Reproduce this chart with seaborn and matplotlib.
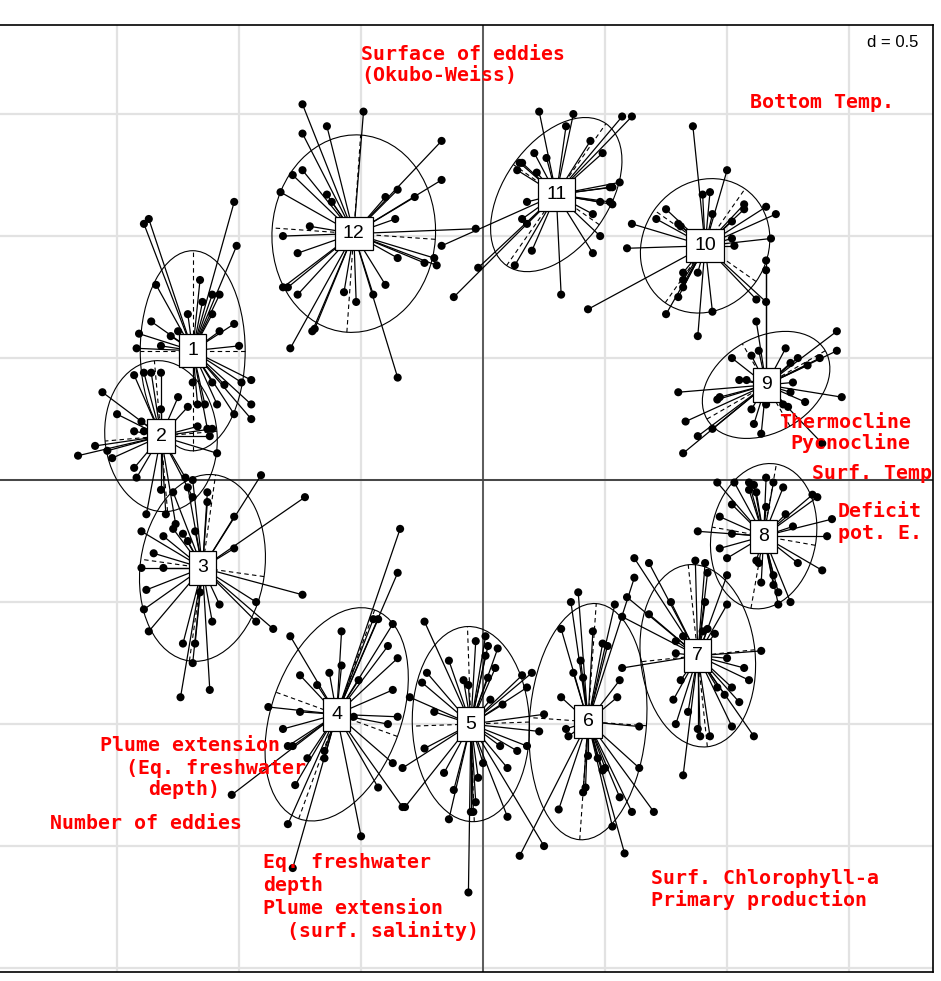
import numpy as np
import pandas as pd
import matplotlib
matplotlib.use("Agg")
import matplotlib.pyplot as plt
from matplotlib.patches import Ellipse
from matplotlib.collections import LineCollection
import seaborn as sns

# Scores of the sampling units on the first two axes, by class (month 1..12)
grp01 = [(-1.37, 1.07), (-1.39, 1.05), (-1.02, 1.14), (-1.01, 0.96), (-1.34, 0.80), (-1.16, 0.82),
         (-1.11, 0.76), (-1.08, 0.76), (-1.15, 0.73), (-1.11, 0.68), (-1.21, 0.68), (-1.36, 0.65),
         (-1.41, 0.60), (-1.28, 0.59), (-1.02, 0.64), (-1.08, 0.61), (-1.25, 0.61), (-1.42, 0.54),
         (-1.32, 0.55), (-1.00, 0.55), (-0.99, 0.40), (-0.95, 0.41), (-0.95, 0.31), (-0.95, 0.25),
         (-1.02, 0.27), (-1.11, 0.40), (-1.14, 0.31), (-1.09, 0.31), (-1.06, 0.39), (-1.19, 0.40),
         (-1.17, 0.31), (-1.13, 0.21)]
grp02 = [(-1.56, 0.36), (-1.50, 0.27), (-1.59, 0.14), (-1.66, 0.10), (-1.54, 0.12), (-1.52, 0.09),
         (-1.43, 0.05), (-1.42, 0.01), (-1.43, 0.43), (-1.39, 0.44), (-1.36, 0.44), (-1.32, 0.44),
         (-1.40, 0.24), (-1.43, 0.20), (-1.39, 0.20), (-1.25, 0.34), (-1.32, 0.29), (-1.21, 0.30),
         (-1.17, 0.22), (-1.11, 0.21), (-1.12, 0.18), (-1.09, 0.11), (-1.22, 0.01), (-1.19, -0.07),
         (-1.32, -0.04), (-1.38, -0.14), (-1.30, -0.14), (-1.26, -0.18)]
grp03 = [(-0.91, 0.02), (-0.73, -0.07), (-1.02, -0.15), (-1.02, -0.28), (-1.13, -0.09), (-1.13, -0.05),
         (-1.19, 0.00), (-1.21, -0.03), (-1.27, -0.05), (-1.27, -0.20), (-1.23, -0.22), (-1.21, -0.25),
         (-1.18, -0.21), (-1.31, -0.23), (-1.40, -0.21), (-1.35, -0.30), (-1.40, -0.36), (-1.31, -0.36),
         (-1.38, -0.45), (-1.39, -0.53), (-1.37, -0.62), (-0.74, -0.47), (-0.93, -0.50), (-0.93, -0.58),
         (-0.86, -0.61), (-1.08, -0.51), (-1.11, -0.58), (-1.16, -0.46), (-1.23, -0.67), (-1.18, -0.67),
         (-1.19, -0.75), (-1.24, -0.89), (-1.12, -0.86)]
grp04 = [(-0.34, -0.20), (-0.35, -0.38), (-0.45, -0.57), (-0.43, -0.57), (-0.37, -0.59), (-0.39, -0.68),
         (-0.35, -0.73), (-0.51, -0.82), (-0.37, -0.86), (-0.35, -0.97), (-0.39, -1.00), (-0.53, -0.97),
         (-0.58, -0.62), (-0.58, -0.76), (-0.63, -0.79), (-0.68, -0.84), (-0.75, -0.80), (-0.79, -0.64),
         (-0.88, -0.93), (-0.75, -0.95), (-0.82, -1.02), (-0.80, -1.09), (-0.78, -1.09), (-0.72, -1.14),
         (-0.65, -1.14), (-0.65, -1.11), (-0.77, -1.25), (-0.80, -1.41), (-0.78, -1.59), (-1.03, -1.29),
         (-0.43, -1.26), (-0.37, -1.16), (-0.33, -1.34), (-0.50, -1.46)]
grp05 = [(-0.24, -0.58), (-0.14, -0.74), (-0.23, -0.79), (-0.25, -0.83), (-0.30, -0.89), (-0.20, -0.95),
         (-0.03, -0.66), (0.01, -0.64), (0.02, -0.68), (0.01, -0.72), (0.06, -0.69), (0.05, -0.77),
         (0.02, -0.81), (-0.08, -0.82), (-0.06, -0.84), (0.16, -0.80), (0.20, -0.79), (0.18, -0.85),
         (0.08, -0.92), (0.03, -0.90), (0.25, -0.96), (0.23, -1.03), (0.18, -1.09), (0.14, -1.11),
         (0.07, -1.09), (0.00, -1.16), (0.10, -1.18), (-0.24, -1.10), (-0.33, -1.18), (-0.32, -1.34),
         (-0.16, -1.20), (-0.12, -1.27), (-0.14, -1.39), (-0.02, -1.22), (-0.03, -1.32), (-0.05, -1.36),
         (-0.04, -1.36), (-0.06, -1.69), (0.10, -1.38), (0.25, -1.50)]
grp06 = [(0.39, -0.46), (0.36, -0.50), (0.32, -0.61), (0.45, -0.62), (0.49, -0.67), (0.51, -0.68),
         (0.54, -0.51), (0.40, -0.74), (0.37, -0.79), (0.41, -0.81), (0.56, -0.82), (0.55, -0.89),
         (0.32, -0.89), (0.34, -1.02), (0.35, -1.05), (0.64, -1.01), (0.64, -1.18), (0.43, -1.13),
         (0.47, -1.14), (0.49, -1.19), (0.50, -1.18), (0.42, -1.26), (0.41, -1.28), (0.31, -1.35),
         (0.56, -1.30), (0.61, -1.36), (0.70, -1.36), (0.53, -1.42), (0.58, -1.53), (0.15, -1.54),
         (0.62, -0.40)]
grp07 = [(0.62, -0.32), (0.68, -0.34), (0.59, -0.48), (0.57, -0.56), (0.68, -0.55), (0.77, -0.50),
         (0.79, -0.66), (0.82, -0.64), (0.79, -0.71), (0.57, -0.77), (0.87, -0.33), (0.91, -0.34),
         (0.92, -0.38), (0.91, -0.50), (0.90, -0.62), (0.92, -0.61), (0.95, -0.63), (1.00, -0.51),
         (1.00, -0.39), (1.14, -0.70), (1.00, -0.73), (1.07, -0.77), (1.09, -0.82), (1.02, -0.85),
         (0.96, -0.85), (0.99, -0.88), (1.05, -0.91), (0.81, -0.82), (0.78, -0.90), (0.84, -0.95),
         (0.79, -1.00), (0.88, -1.02), (0.89, -1.05), (0.93, -1.05), (1.02, -1.01), (1.11, -1.05),
         (0.82, -1.21)]
grp08 = [(0.96, -0.01), (1.03, -0.01), (1.09, -0.01), (1.11, -0.02), (1.16, 0.01), (1.19, -0.01),
         (1.23, -0.03), (1.09, -0.04), (1.12, -0.05), (1.02, -0.10), (0.97, -0.15), (1.16, -0.11),
         (1.24, -0.14), (1.35, -0.06), (1.37, -0.07), (1.43, -0.16), (1.41, -0.23), (1.27, -0.19),
         (0.88, -0.21), (1.02, -0.22), (0.97, -0.28), (1.00, -0.32), (1.29, -0.34), (1.39, -0.37),
         (1.13, -0.34), (1.12, -0.33), (1.14, -0.42), (1.19, -0.39), (1.19, -0.43), (1.21, -0.46),
         (1.21, -0.51), (1.26, -0.50)]
grp09 = [(1.12, 0.65), (1.13, 0.53), (1.10, 0.51), (1.02, 0.50), (1.24, 0.54), (1.29, 0.50),
         (1.26, 0.48), (1.33, 0.47), (1.38, 0.50), (1.45, 0.61), (1.45, 0.53), (0.80, 0.36),
         (1.05, 0.41), (1.08, 0.41), (1.27, 0.40), (1.26, 0.36), (1.32, 0.32), (1.47, 0.34),
         (0.97, 0.34), (0.96, 0.33), (0.83, 0.24), (0.88, 0.18), (0.94, 0.21), (0.82, 0.11),
         (1.10, 0.29), (1.11, 0.23), (1.14, 0.19), (1.16, 0.31), (1.23, 0.31), (1.25, 0.30),
         (1.39, 0.15), (1.16, 0.90), (1.16, 0.86)]
grp10 = [(0.86, 1.45), (1.00, 1.27), (0.90, 1.17), (0.93, 1.18), (0.94, 1.09), (0.75, 1.11),
         (0.71, 1.07), (0.80, 1.05), (0.81, 1.04), (0.61, 1.05), (0.59, 0.95), (0.43, 0.70),
         (1.07, 1.13), (1.07, 1.11), (1.02, 1.06), (1.16, 1.12), (1.20, 1.09), (1.02, 0.99),
         (1.03, 0.96), (1.18, 0.99), (1.16, 0.73), (1.12, 0.74), (0.75, 0.68), (0.80, 0.75),
         (0.82, 0.79), (0.82, 0.82), (0.82, 0.85), (0.88, 0.85), (0.94, 0.69), (0.88, 0.59)]
grp11 = [(0.23, 1.51), (0.37, 1.50), (0.34, 1.45), (0.57, 1.49), (0.61, 1.49), (0.44, 1.39),
         (0.49, 1.34), (0.21, 1.34), (0.26, 1.32), (0.15, 1.30), (0.16, 1.30), (0.14, 1.27),
         (0.22, 1.26), (0.56, 1.22), (0.53, 1.20), (0.52, 1.20), (0.48, 1.14), (0.52, 1.14),
         (0.53, 1.13), (0.45, 1.09), (0.48, 1.00), (0.45, 0.93), (0.32, 0.76), (0.20, 0.94),
         (0.18, 1.14), (0.16, 1.07), (0.18, 1.05), (0.13, 0.88), (-0.02, 0.87), (-0.12, 0.75),
         (-0.17, 0.96)]
grp12 = [(-0.74, 1.54), (-0.49, 1.51), (-0.64, 1.45), (-0.74, 1.42), (-0.17, 1.39), (-0.74, 1.27),
         (-0.78, 1.25), (-0.83, 1.18), (-0.17, 1.23), (-0.64, 1.17), (-0.62, 1.14), (-0.35, 1.19),
         (-0.40, 1.16), (-0.28, 1.16), (-0.36, 1.07), (-0.71, 1.04), (-0.82, 1.00), (-0.76, 0.93),
         (-0.35, 0.91), (-0.24, 0.89), (-0.20, 0.91), (-0.19, 0.88), (-0.82, 0.79), (-0.80, 0.79),
         (-0.76, 0.76), (-0.57, 0.77), (-0.52, 0.73), (-0.45, 0.76), (-0.40, 0.80), (-0.70, 0.61),
         (-0.69, 0.62), (-0.79, 0.54), (-0.35, 0.42), (-0.03, 1.03)]

class_names = ["1", "2", "3", "4", "5", "6", "7", "8", "9", "10", "11", "12"]
class_members = [grp01, grp02, grp03, grp04, grp05, grp06, grp07, grp08, grp09, grp10, grp11, grp12]

# Class gravity centres
centre_x = [-1.19, -1.32, -1.15, -0.60, -0.05, 0.43, 0.88, 1.15, 1.16, 0.91, 0.30, -0.53]
centre_y = [0.53, 0.18, -0.36, -0.96, -1.00, -0.99, -0.72, -0.23, 0.39, 0.96, 1.17, 1.01]

# Inertia ellipses (1.5 sd): full axis lengths and orientation of the major axis
ell_major = [0.82, 0.62, 0.77, 0.91, 0.80, 0.97, 0.75, 0.60, 0.56, 0.57, 0.71, 0.81]
ell_minor = [0.43, 0.46, 0.51, 0.53, 0.48, 0.48, 0.47, 0.43, 0.39, 0.51, 0.43, 0.67]
ell_angle = [90, 95, 82, 70, 92, 86, 96, 80, 30, 55, 55, 86]

# Environmental variables projected as supplementary labels
var_text = ["Surface of eddies", "(Okubo-Weiss)", "Bottom Temp.", "Thermocline", "Pycnocline",
            "Surf. Temp", "Deficit", "pot. E.", "Plume extension", "(Eq. freshwater", "depth)",
            "Number of eddies", "Eq. freshwater", "depth", "Plume extension", "(surf. salinity)",
            "Surf. Chlorophyll-a", "Primary production"]
var_x = [-0.50, -0.50, 1.094, 1.213, 1.258, 1.348, 1.455, 1.455, -1.570, -1.463, -1.373,
         -1.775, -0.902, -0.902, -0.902, -0.803, 0.689, 0.689]
var_y = [1.746, 1.656, 1.549, 0.238, 0.152, 0.029, -0.127, -0.217, -1.086, -1.180, -1.270,
         -1.406, -1.566, -1.660, -1.754, -1.848, -1.631, -1.721]

grid_step = 0.5

rows = []
for name, members in zip(class_names, class_members):
    for x, y in members:
        rows.append({"cls": name, "x": x, "y": y})
scores = pd.DataFrame(rows)
centres = pd.DataFrame({"cls": class_names, "cx": centre_x, "cy": centre_y})
scores = scores.merge(centres, on="cls")

sns.set_theme(style="white")
plt.rcParams["font.family"] = ["DejaVu Sans"]
plt.rcParams["text.color"] = "black"

fig = plt.figure(figsize=(9.41, 9.81), dpi=100)
ax = fig.add_axes([-2 / 941, 1 - 972 / 981, 935 / 941, 947 / 981])
ax.set_xlim(-1.988, 1.844)
ax.set_ylim(-2.016, 1.865)

# background grid
for v in np.arange(-2.0, 2.01, grid_step):
    ax.axvline(v, color="#e2e2e2", lw=1.6, zorder=0)
    ax.axhline(v, color="#e2e2e2", lw=1.6, zorder=0)
ax.axvline(0, color="#444444", lw=1.2, zorder=1)
ax.axhline(0, color="#444444", lw=1.4, zorder=1)

# ellipses and their axes
for cx, cy, a, b, ang in zip(centre_x, centre_y, ell_major, ell_minor, ell_angle):
    ax.add_patch(Ellipse((cx, cy), a, b, angle=ang, fill=False, ec="black", lw=0.8, zorder=2))
    t = np.deg2rad(ang)
    for half, th in ((a / 2, t), (b / 2, t + np.pi / 2)):
        dx, dy = half * np.cos(th), half * np.sin(th)
        ax.plot([cx - dx, cx + dx], [cy - dy, cy + dy], ls=(0, (4, 3)), color="black",
                lw=0.8, zorder=2)

# stars linking each unit to its class centre
segs = [[(r.cx, r.cy), (r.x, r.y)] for r in scores.itertuples()]
ax.add_collection(LineCollection(segs, colors="black", linewidths=0.9, zorder=3))

sns.scatterplot(data=scores, x="x", y="y", color="black", s=34, edgecolor="none",
                legend=False, ax=ax, zorder=4)

for name, cx, cy in zip(class_names, centre_x, centre_y):
    ax.text(cx, cy, name, ha="center", va="center", fontsize=14, family="Liberation Sans",
            color="black", zorder=6,
            bbox=dict(boxstyle="square,pad=0.42", fc="white", ec="black", lw=0.9))

for txt, x, y in zip(var_text, var_x, var_y):
    ax.text(x, y, txt, color="red", fontsize=14.3, family="DejaVu Sans Mono",
            fontweight="bold", ha="left", va="center", zorder=7)

ax.text(0.984, 0.981, "d = 0.5", transform=ax.transAxes, ha="right", va="center",
        fontsize=12, family="Liberation Sans", color="black", zorder=8,
        bbox=dict(boxstyle="square,pad=0.3", fc="white", ec="none"))

ax.set_xlabel("")
ax.set_ylabel("")
ax.set_xticks([])
ax.set_yticks([])
for s in ax.spines.values():
    s.set_color("black")
    s.set_linewidth(1.2)
    s.set_zorder(9)

fig.savefig("out.png", dpi=100)
